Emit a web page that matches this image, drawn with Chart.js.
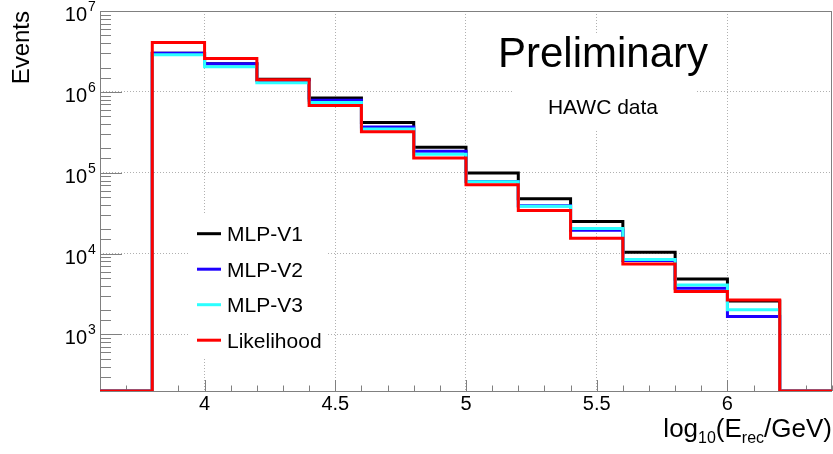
<!DOCTYPE html>
<html>
<head>
<meta charset="utf-8">
<title>HAWC energy estimators</title>
<script src="https://cdn.jsdelivr.net/npm/chart.js@4.4.1/dist/chart.umd.min.js"></script>
<style>
  html, body { margin: 0; padding: 0; background: #fff; }
  canvas { display: block; }
</style>
</head>
<body>
<canvas id="hist" width="833" height="454"></canvas>
<script>
const X_MIN = 3.6;
const X_MAX = 6.4;
const Y_MIN = 200;
const Y_MAX = 1e7;
const BIN_WIDTH = 0.2;

const binLow = [3.8, 4.0, 4.2, 4.4, 4.6, 4.8, 5.0, 5.2, 5.4, 5.6, 5.8, 6.0];
const xTickLabels = ['4', '4.5', '5', '5.5', '6'];
const yTickExponents = [3, 4, 5, 6, 7];

const mlpV1 = [3.0e6, 2.22e6, 1.43e6, 8.4e5, 4.17e5, 2.07e5, 9.9e4, 4.76e4, 2.49e4, 1.04e4, 4.86e3, 2.6e3];
const mlpV2 = [3.0e6, 2.22e6, 1.37e6, 7.9e5, 3.67e5, 1.85e5, 7.8e4, 3.9e4, 1.94e4, 8.19e3, 3.72e3, 1.67e3];
const mlpV3 = [2.87e6, 2.04e6, 1.30e6, 7.37e5, 3.47e5, 1.69e5, 7.74e4, 3.86e4, 2.05e4, 8.43e3, 4.09e3, 2.02e3];
const likelihood = [4.08e6, 2.59e6, 1.41e6, 6.8e5, 3.22e5, 1.52e5, 7.1e4, 3.41e4, 1.55e4, 7.45e3, 3.41e3, 2.67e3];

const series = [
  { label: 'MLP-V1', counts: mlpV1, color: '#000000', order: 3 },
  { label: 'MLP-V2', counts: mlpV2, color: '#1e00ff', order: 2 },
  { label: 'MLP-V3', counts: mlpV3, color: '#2bffff', order: 1 },
  { label: 'Likelihood', counts: likelihood, color: '#ff0000', order: 0 },
];

const FONT = '"Liberation Sans", Arial, Helvetica, sans-serif';
const FRAME = '#808080';

// empty bins sit on the frame floor, like ROOT draws them
function histPoints(counts) {
  const pts = [{ x: X_MIN, y: Y_MIN }];
  counts.forEach((c, i) => pts.push({ x: binLow[i], y: c }));
  pts.push({ x: binLow[binLow.length - 1] + BIN_WIDTH, y: Y_MIN });
  pts.push({ x: X_MAX, y: Y_MIN });
  return pts;
}

const isHalf = (v) => Math.abs(v * 2 - Math.round(v * 2)) < 1e-6;
const isDecade = (v) => Math.abs(Math.log10(v) - Math.round(Math.log10(v))) < 1e-6;

function drawRich(ctx, parts, xRight, baseline) {
  let total = 0;
  parts.forEach((p) => {
    ctx.font = `${p.size}px ${FONT}`;
    p.w = ctx.measureText(p.text).width;
    total += p.w;
  });
  let x = xRight - total;
  ctx.textAlign = 'left';
  ctx.textBaseline = 'alphabetic';
  parts.forEach((p) => {
    ctx.font = `${p.size}px ${FONT}`;
    ctx.fillText(p.text, x, baseline + (p.dy || 0));
    x += p.w;
  });
}

const rootStyle = {
  id: 'rootStyle',
  beforeDatasetsDraw(chart) {
    const { ctx, chartArea: a, scales } = chart;
    ctx.save();
    ctx.fillStyle = '#fff';
    ctx.fillRect(190, 215, 138, 144);
    ctx.fillRect(512, 35, 185, 95);

    ctx.strokeStyle = FRAME;
    ctx.lineWidth = 1;
    ctx.strokeRect(a.left + 0.5, a.top + 0.5, a.right - a.left - 1, a.bottom - a.top);

    ctx.beginPath();
    scales.y.ticks.forEach((t) => {
      const y = Math.round(scales.y.getPixelForValue(t.value)) + 0.5;
      const len = isDecade(t.value) ? 22 : 11;
      ctx.moveTo(a.left, y);
      ctx.lineTo(a.left + len, y);
    });
    scales.x.ticks.forEach((t) => {
      const x = Math.round(scales.x.getPixelForValue(t.value)) + 0.5;
      const len = isHalf(t.value) ? 11 : 5.5;
      ctx.moveTo(x, a.bottom);
      ctx.lineTo(x, a.bottom - len);
    });
    ctx.stroke();
    ctx.restore();
  },
  afterDatasetsDraw(chart) {
    const { ctx, chartArea: a, scales } = chart;
    ctx.save();
    ctx.fillStyle = '#000';

    ctx.textAlign = 'center';
    ctx.textBaseline = 'alphabetic';
    ctx.font = `20px ${FONT}`;
    xTickLabels.forEach((lab) => {
      ctx.fillText(lab, scales.x.getPixelForValue(Number(lab)), a.bottom + 19);
    });

    yTickExponents.forEach((e) => {
      const y = scales.y.getPixelForValue(Math.pow(10, e));
      ctx.textAlign = 'right';
      ctx.font = `20px ${FONT}`;
      ctx.fillText('10', 87, y + 10);
      ctx.textAlign = 'left';
      ctx.font = `14px ${FONT}`;
      ctx.fillText(String(e), 88, y);
    });

    ctx.save();
    ctx.translate(29, a.top);
    ctx.rotate(-Math.PI / 2);
    ctx.textAlign = 'right';
    ctx.font = `24px ${FONT}`;
    ctx.fillText('Events', 0, 0);
    ctx.restore();

    drawRich(ctx, [
      { text: 'log', size: 26 },
      { text: '10', size: 16, dy: 6 },
      { text: '(E', size: 26 },
      { text: 'rec', size: 16, dy: 6 },
      { text: '/GeV)', size: 26 },
    ], a.right, 437);

    ctx.textAlign = 'center';
    ctx.font = `42px ${FONT}`;
    ctx.fillText('Preliminary', 603, 67);
    ctx.font = `21px ${FONT}`;
    ctx.fillText('HAWC data', 603, 114);

    series.forEach((s, i) => {
      const y = 233.7 + i * 35.5;
      ctx.strokeStyle = s.color;
      ctx.lineWidth = 3;
      ctx.beginPath();
      ctx.moveTo(197, y);
      ctx.lineTo(221, y);
      ctx.stroke();
      ctx.textAlign = 'left';
      ctx.font = `21px ${FONT}`;
      ctx.fillText(s.label, 227, y + 7.5);
    });
    ctx.restore();
  },
};

const gridStyle = (major) => ({
  drawTicks: false,
  lineWidth: 1,
  color: (c) => (c.tick && major(c.tick.value) ? '#b0b0b0' : 'rgba(0,0,0,0)'),
});

new Chart(document.getElementById('hist').getContext('2d'), {
  type: 'line',
  data: {
    datasets: series.map((s) => ({
      label: s.label,
      data: histPoints(s.counts),
      borderColor: s.color,
      borderWidth: 3,
      stepped: true,
      pointRadius: 0,
      fill: false,
      order: s.order,
    })),
  },
  options: {
    responsive: false,
    animation: false,
    devicePixelRatio: 1,
    layout: { padding: { left: 100, right: 1, top: 11, bottom: 63 } },
    plugins: { legend: { display: false }, tooltip: { enabled: false } },
    scales: {
      x: {
        type: 'linear',
        min: X_MIN,
        max: X_MAX,
        ticks: { display: false, stepSize: 0.1 },
        grid: gridStyle(isHalf),
        border: { display: false, dash: [1, 2] },
        afterFit: (s) => { s.height = 0; },
      },
      y: {
        type: 'logarithmic',
        min: Y_MIN,
        max: Y_MAX,
        ticks: { display: false },
        grid: gridStyle(isDecade),
        border: { display: false, dash: [1, 2] },
        afterFit: (s) => { s.width = 0; },
      },
    },
  },
  plugins: [rootStyle],
});
</script>
</body>
</html>
